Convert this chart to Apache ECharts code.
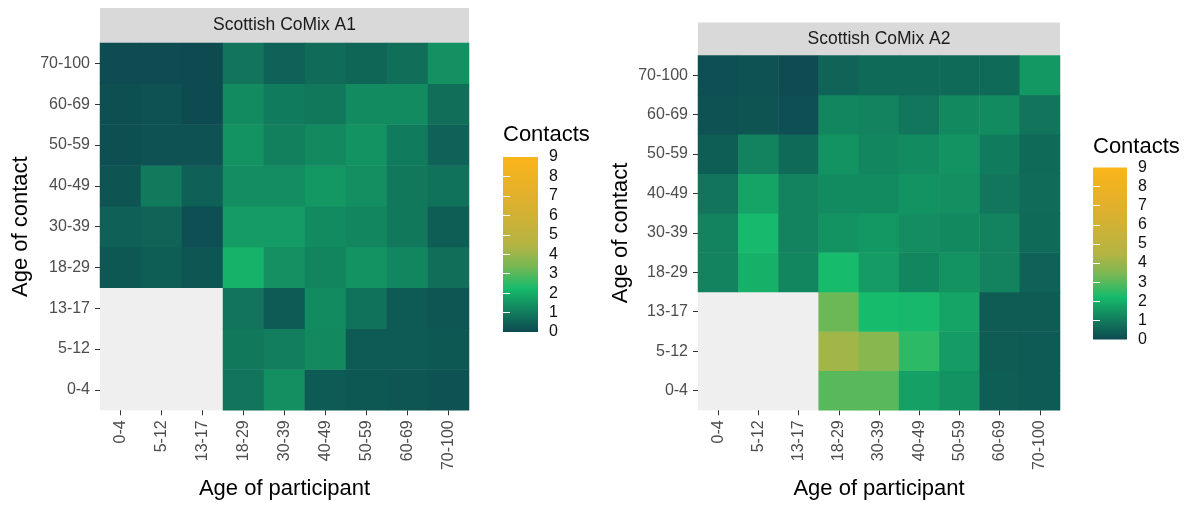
<!DOCTYPE html>
<html>
<head>
<meta charset="utf-8">
<script src="https://cdn.jsdelivr.net/npm/echarts@6/dist/echarts.min.js"></script>
<style>
  html, body { margin: 0; padding: 0; background: #ffffff; }
  #chart { width: 1185px; height: 505px; }
</style>
</head>
<body>
<div id="chart"></div>
<script>
// ---------- data ----------
const ageGroups = ['0-4', '5-12', '13-17', '18-29', '30-39', '40-49', '50-59', '60-69', '70-100'];
const legendTicks = [0, 1, 2, 3, 4, 5, 6, 7, 8, 9];
const panelTitles = ['Scottish CoMix A1', 'Scottish CoMix A2'];

// rows: age of contact (0-4 ... 70-100), columns: age of participant (0-4 ... 70-100)
const a1Contacts = [
  [null, null, null, 0.84, 1.39, 0.32, 0.28, 0.24, 0.16],
  [null, null, null, 0.92, 1.04, 1.27, 0.32, 0.32, 0.28],
  [null, null, null, 0.84, 0.32, 1.31, 0.80, 0.32, 0.24],
  [0.28, 0.40, 0.24, 2.07, 1.43, 1.19, 1.47, 1.23, 0.72],
  [0.44, 0.52, 0.10, 1.63, 1.63, 1.31, 1.23, 0.92, 0.40],
  [0.20, 0.96, 0.44, 1.35, 1.35, 1.55, 1.39, 0.92, 0.80],
  [0.12, 0.16, 0.16, 1.47, 1.08, 1.27, 1.47, 1.00, 0.48],
  [0.12, 0.16, 0.03, 1.31, 1.00, 0.92, 1.31, 1.31, 0.72],
  [0.05, 0.05, 0.03, 0.84, 0.48, 0.68, 0.56, 0.72, 1.43]
];
const a2Contacts = [
  [null, null, null, 3.00, 3.00, 1.71, 1.47, 0.40, 0.32],
  [null, null, null, 4.15, 3.67, 2.49, 1.63, 0.36, 0.32],
  [null, null, null, 3.24, 2.25, 2.19, 1.79, 0.36, 0.36],
  [1.15, 2.03, 1.23, 2.25, 1.63, 1.23, 1.47, 1.15, 0.48],
  [1.15, 2.23, 1.15, 1.47, 1.55, 1.35, 1.27, 1.15, 0.64],
  [0.84, 1.79, 1.15, 1.31, 1.31, 1.47, 1.39, 0.88, 0.68],
  [0.40, 1.15, 0.64, 1.47, 1.23, 1.31, 1.47, 1.00, 0.64],
  [0.16, 0.20, 0.10, 1.23, 1.15, 0.88, 1.27, 1.31, 0.84],
  [0.10, 0.16, 0.06, 0.52, 0.64, 0.64, 0.64, 0.64, 1.55]
];
const scaleMin = 0, scaleMax = 9;

// ---------- styles ----------
const FONT = "'Liberation Sans', Arial, Helvetica, sans-serif";
const rampColors = ['#0d4a51', '#12825e', '#17bb6c', '#78b854', '#b5b442', '#cab238', '#deb02e', '#edb224', '#fbb51a'];

function toCells(matrix) {
  const out = [];
  matrix.forEach((row, yi) => row.forEach((v, xi) => { if (v !== null) out.push([xi, yi, v]); }));
  return out;
}

const panels = [
  { grid: { left: 100, top: 43, width: 369, height: 369.5 }, yGap: 68, xGap: 67,
    strip: { x: 100, y: 8, w: 369, h: 35 } },
  { grid: { left: 698, top: 55.5, width: 362, height: 364 }, yGap: 66, xGap: 66,
    strip: { x: 698, y: 22.5, w: 362, h: 33 } }
];
const legends = [
  { grid: { left: 503, top: 157, width: 35, height: 175 }, title: { left: 503, top: 124 } },
  { grid: { left: 1093, top: 167.5, width: 34, height: 172 }, title: { left: 1093, top: 136 } }
];

const grids = [], xAxes = [], yAxes = [], series = [], titles = [], graphics = [];

panels.forEach((p, i) => {
  grids.push(Object.assign({ show: true, backgroundColor: '#efefef', borderWidth: 0 }, p.grid));
  xAxes.push({
    type: 'category', gridIndex: i, data: ageGroups,
    name: 'Age of participant', nameLocation: 'middle', nameGap: p.xGap,
    nameTextStyle: { fontFamily: FONT, fontSize: 22, color: '#000' },
    axisLine: { show: false },
    axisTick: { show: true, alignWithLabel: true, length: 5, lineStyle: { color: '#333', width: 1 } },
    axisLabel: { interval: 0, rotate: 90, margin: 10, fontFamily: FONT, fontSize: 16, color: '#4d4d4d' },
    splitLine: { show: false }
  });
  yAxes.push({
    type: 'category', gridIndex: i, data: ageGroups,
    name: 'Age of contact', nameLocation: 'middle', nameGap: p.yGap,
    nameTextStyle: { fontFamily: FONT, fontSize: 22, color: '#000' },
    axisLine: { show: false },
    axisTick: { show: true, alignWithLabel: true, length: 5, lineStyle: { color: '#333', width: 1 } },
    axisLabel: { interval: 0, margin: 10, fontFamily: FONT, fontSize: 16, color: '#4d4d4d' },
    splitLine: { show: false }
  });
  series.push({
    type: 'heatmap', xAxisIndex: i, yAxisIndex: i,
    data: toCells(i === 0 ? a1Contacts : a2Contacts),
    itemStyle: { borderWidth: 0 },
    emphasis: { disabled: true },
    progressive: 0
  });
  graphics.push({
    type: 'rect', shape: { x: p.strip.x, y: p.strip.y, width: p.strip.w, height: p.strip.h },
    style: { fill: '#d9d9d9' }, silent: true
  });
  graphics.push({
    type: 'text', x: p.strip.x + p.strip.w / 2, y: p.strip.y + p.strip.h / 2,
    style: { text: panelTitles[i], fontFamily: FONT, fontSize: 17.5, fill: '#1a1a1a',
             textAlign: 'center', textVerticalAlign: 'middle' }, silent: true
  });
});

legends.forEach((L, j) => {
  const gi = 2 + j;
  grids.push(Object.assign({ show: false }, L.grid));
  xAxes.push({ type: 'value', gridIndex: gi, min: 0, max: 1, show: false });
  yAxes.push({
    type: 'value', gridIndex: gi, min: scaleMin, max: scaleMax, interval: 1, position: 'right', z: 10,
    axisLine: { show: false },
    axisTick: { show: true, inside: true, length: 7, lineStyle: { color: '#ffffff', width: 1 },
                customValues: legendTicks.slice(1, -1) },
    axisLabel: { margin: 11, fontFamily: FONT, fontSize: 16, color: '#111',
                 customValues: legendTicks },
    splitLine: { show: false }
  });
  yAxes.push({
    type: 'value', gridIndex: gi, min: scaleMin, max: scaleMax, interval: 1, position: 'left', z: 10,
    axisLine: { show: false },
    axisTick: { show: true, inside: true, length: 7, lineStyle: { color: '#ffffff', width: 1 },
                customValues: legendTicks.slice(1, -1) },
    axisLabel: { show: false },
    splitLine: { show: false }
  });
  series.push({
    type: 'custom', xAxisIndex: gi, yAxisIndex: yAxes.length - 2, z: 1, silent: true,
    data: [[0, scaleMin, 1, scaleMax]],
    renderItem: function (params, api) {
      const pTop = api.coord([api.value(0), api.value(3)]);
      const pBot = api.coord([api.value(2), api.value(1)]);
      const stops = rampColors.map((c, k) => ({ offset: 1 - k / (rampColors.length - 1), color: c })).reverse();
      return {
        type: 'rect',
        shape: { x: pTop[0], y: pTop[1], width: pBot[0] - pTop[0], height: pBot[1] - pTop[1] },
        style: { fill: new echarts.graphic.LinearGradient(0, 0, 0, 1, stops) }
      };
    }
  });
  titles.push({
    text: 'Contacts', left: L.title.left, top: L.title.top, padding: 0,
    textStyle: { fontFamily: FONT, fontSize: 22, fontWeight: 'normal', color: '#000' }
  });
});

const chart = echarts.init(document.getElementById('chart'), null, { renderer: 'canvas' });
chart.setOption({
  backgroundColor: '#ffffff',
  animation: false,
  textStyle: { fontFamily: FONT },
  title: titles,
  grid: grids,
  xAxis: xAxes,
  yAxis: yAxes,
  visualMap: [{
    type: 'continuous', show: false, min: scaleMin, max: scaleMax, dimension: 2,
    seriesIndex: [0, 1], inRange: { color: rampColors }
  }],
  series: series,
  graphic: graphics
});
</script>
</body>
</html>
